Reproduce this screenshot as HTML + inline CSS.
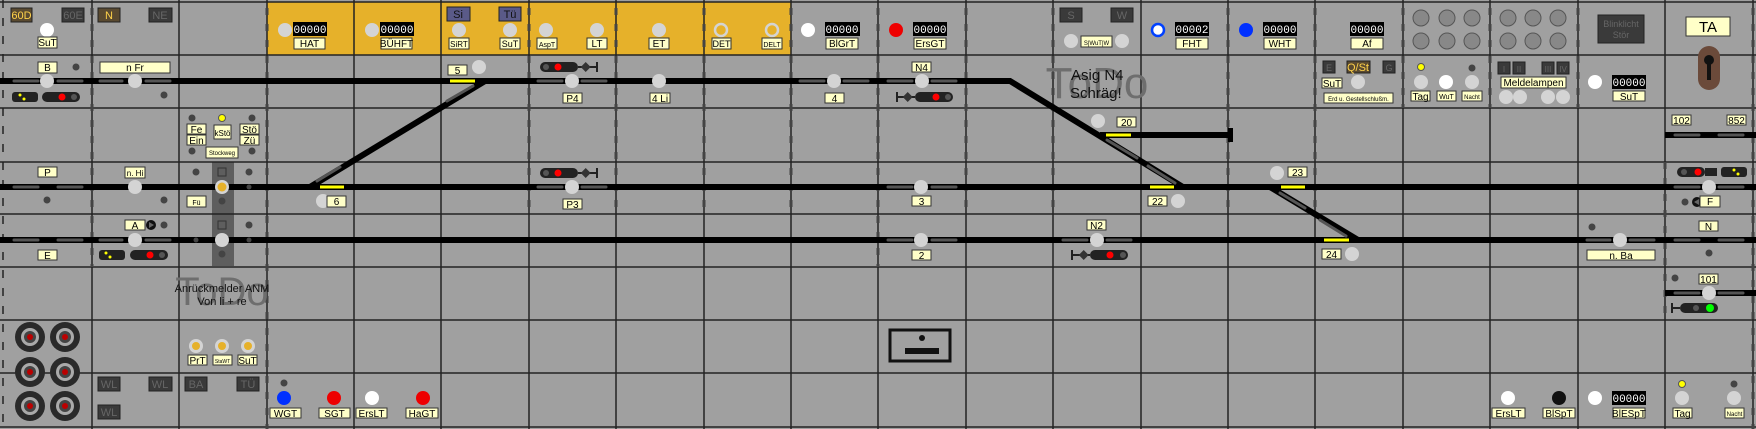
<!DOCTYPE html>
<html><head><meta charset="utf-8"><style>
html,body{margin:0;padding:0;background:#a0a0a0;}
svg{display:block;font-family:"Liberation Sans",sans-serif;}
.lb{fill:#ffffc8;stroke:#333;stroke-width:1;}
.lt{font-size:10px;fill:#000;text-anchor:middle;}
.cnt{fill:#000;}
.ct{font-size:11px;fill:#fff;text-anchor:middle;font-family:"Liberation Mono",monospace;}
.lc{fill:#d4d4d4;}
.dot{fill:#444;}
.db{fill:#3a3a3a;stroke:#222;}
.dbt{font-size:11px;fill:#666;text-anchor:middle;}
</style></head><body>
<svg width="1756" height="429" viewBox="0 0 1756 429" xmlns="http://www.w3.org/2000/svg">
<rect width="1756" height="429" fill="#a0a0a0"/>
<!-- gold panel -->
<rect x="267" y="2" width="524" height="53" fill="#e6b12a"/>
<!-- dark band -->
<rect x="212" y="162" width="22" height="104" fill="#5e5e5e"/>
<!-- rows -->
<g stroke="#222" stroke-width="1.5">
<line x1="0" y1="2" x2="1756" y2="2"/>
<line x1="0" y1="55" x2="1756" y2="55"/>
<line x1="0" y1="108" x2="1756" y2="108"/>
<line x1="0" y1="162" x2="1756" y2="162"/>
<line x1="0" y1="214" x2="1756" y2="214"/>
<line x1="0" y1="267" x2="1756" y2="267"/>
<line x1="0" y1="320" x2="1756" y2="320"/>
<line x1="0" y1="373" x2="1756" y2="373"/>
<line x1="0" y1="427" x2="1756" y2="427"/>
</g>
<!-- columns -->
<g stroke="#222" stroke-width="1.5">
<line x1="3" y1="0" x2="3" y2="429" stroke-dasharray="8 10"/>
<line x1="92" y1="0" x2="92" y2="429"/>
<line x1="179" y1="0" x2="179" y2="429"/>
<line x1="267" y1="0" x2="267" y2="429"/>
<line x1="354" y1="0" x2="354" y2="429"/>
<line x1="441" y1="0" x2="441" y2="429"/>
<line x1="529" y1="0" x2="529" y2="429"/>
<line x1="616" y1="0" x2="616" y2="429"/>
<line x1="704" y1="0" x2="704" y2="429"/>
<line x1="791" y1="0" x2="791" y2="429"/>
<line x1="878" y1="0" x2="878" y2="429"/>
<line x1="966" y1="0" x2="966" y2="429"/>
<line x1="1053" y1="0" x2="1053" y2="429"/>
<line x1="1141" y1="0" x2="1141" y2="429"/>
<line x1="1228" y1="0" x2="1228" y2="429"/>
<line x1="1315" y1="0" x2="1315" y2="429"/>
<line x1="1403" y1="0" x2="1403" y2="429"/>
<line x1="1490" y1="0" x2="1490" y2="429"/>
<line x1="1578" y1="0" x2="1578" y2="429"/>
<line x1="1665" y1="0" x2="1665" y2="429"/>
<line x1="1753" y1="0" x2="1753" y2="429"/>
</g>
<g stroke="#444" stroke-width="3" stroke-dasharray="7 9">
<line x1="92" y1="8" x2="92" y2="267"/><line x1="267" y1="8" x2="267" y2="429"/>
<line x1="616" y1="8" x2="616" y2="214"/><line x1="704" y1="8" x2="704" y2="214"/>
<line x1="791" y1="8" x2="791" y2="214"/><line x1="878" y1="8" x2="878" y2="267"/>
<line x1="1053" y1="8" x2="1053" y2="214"/><line x1="1228" y1="8" x2="1228" y2="214"/>
<line x1="1315" y1="8" x2="1315" y2="214"/><line x1="1403" y1="8" x2="1403" y2="108"/>
<line x1="1490" y1="8" x2="1490" y2="108"/><line x1="1578" y1="8" x2="1578" y2="108"/>
<line x1="1665" y1="162" x2="1665" y2="320"/><line x1="1753" y1="8" x2="1753" y2="429"/>
<line x1="529" y1="8" x2="529" y2="214"/><line x1="966" y1="8" x2="966" y2="214"/>
</g>

<!-- ToDo texts -->
<text x="1097" y="98" font-size="44" fill="#6e6e6e" text-anchor="middle">ToDo</text>
<text x="1071" y="80" font-size="15" fill="#111">Asig N4</text>
<text x="1070" y="98" font-size="15" fill="#111">Schräg!</text>
<text x="222" y="305" font-size="40" fill="#6e6e6e" text-anchor="middle">ToDo</text>
<text x="222" y="292" font-size="11" fill="#111" text-anchor="middle">Anrückmelder ANM</text>
<text x="222" y="305" font-size="11" fill="#111" text-anchor="middle">Von li + re</text>

<!-- Tracks -->
<g stroke="#000" stroke-width="6" fill="none">
<polyline points="0,81 1010,81 1183,187"/>
<line x1="0" y1="187" x2="1756" y2="187"/>
<line x1="0" y1="240" x2="1756" y2="240"/>
<line x1="310" y1="187" x2="485" y2="81"/>
<line x1="1100" y1="135" x2="1230" y2="135"/>
<line x1="1270" y1="187" x2="1358" y2="240"/>
<line x1="1665" y1="135" x2="1756" y2="135"/>
<line x1="1665" y1="293" x2="1756" y2="293"/>
</g>
<rect x="1228" y="128" width="5" height="14" fill="#000"/>
<!-- diagonal highlights -->
<g stroke="#555" stroke-width="3" stroke-linecap="round">
<line x1="317" y1="181" x2="340" y2="167"/>
<line x1="447" y1="101" x2="473" y2="86"/>
<line x1="1107" y1="140" x2="1137" y2="158"/>
<line x1="1148" y1="166" x2="1175" y2="183"/>
<line x1="1280" y1="193" x2="1305" y2="208"/>
<line x1="1320" y1="220" x2="1346" y2="236"/>
</g>
<!-- track dashes -->
<g stroke="#555" stroke-width="3" stroke-linecap="round">
<line x1="14" y1="81" x2="38" y2="81"/><line x1="58" y1="81" x2="82" y2="81"/>
<line x1="100" y1="81" x2="122" y2="81"/><line x1="146" y1="81" x2="170" y2="81"/>
<line x1="14" y1="187" x2="38" y2="187"/><line x1="58" y1="187" x2="82" y2="187"/>
<line x1="14" y1="240" x2="38" y2="240"/><line x1="58" y1="240" x2="82" y2="240"/>
<line x1="100" y1="240" x2="122" y2="240"/><line x1="146" y1="240" x2="170" y2="240"/>
<line x1="538" y1="81" x2="562" y2="81"/><line x1="582" y1="81" x2="606" y2="81"/>
<line x1="538" y1="187" x2="562" y2="187"/><line x1="582" y1="187" x2="606" y2="187"/>
<line x1="800" y1="81" x2="824" y2="81"/><line x1="844" y1="81" x2="868" y2="81"/>
<line x1="888" y1="81" x2="912" y2="81"/><line x1="932" y1="81" x2="956" y2="81"/>
<line x1="888" y1="187" x2="912" y2="187"/><line x1="932" y1="187" x2="956" y2="187"/>
<line x1="888" y1="240" x2="912" y2="240"/><line x1="932" y1="240" x2="956" y2="240"/>
<line x1="1063" y1="240" x2="1087" y2="240"/><line x1="1107" y1="240" x2="1131" y2="240"/>
<line x1="1587" y1="240" x2="1610" y2="240"/><line x1="1630" y1="240" x2="1654" y2="240"/>
<line x1="1675" y1="240" x2="1699" y2="240"/><line x1="1719" y1="240" x2="1743" y2="240"/>
<line x1="1675" y1="135" x2="1699" y2="135"/><line x1="1719" y1="135" x2="1743" y2="135"/>
<line x1="1675" y1="187" x2="1699" y2="187"/><line x1="1719" y1="187" x2="1743" y2="187"/>
<line x1="1675" y1="293" x2="1699" y2="293"/><line x1="1719" y1="293" x2="1743" y2="293"/>
</g>
<!-- yellow bars -->
<g stroke="#ffff00" stroke-width="3">
<line x1="450" y1="81" x2="475" y2="81"/>
<line x1="320" y1="187" x2="344" y2="187"/>
<line x1="1106" y1="135" x2="1131" y2="135"/>
<line x1="1150" y1="187" x2="1174" y2="187"/>
<line x1="1281" y1="187" x2="1305" y2="187"/>
<line x1="1324" y1="240" x2="1349" y2="240"/>
</g>

<!-- light circles (track) -->
<g class="lc">
<circle cx="47" cy="81" r="7"/><circle cx="135" cy="81" r="7"/><circle cx="135" cy="187" r="7"/><circle cx="135" cy="240" r="7"/>
<circle cx="222" cy="240" r="7"/><circle cx="479" cy="67" r="7"/><circle cx="572" cy="81" r="7"/><circle cx="659" cy="81" r="7"/>
<circle cx="834" cy="81" r="7"/><circle cx="922" cy="81" r="7"/><circle cx="323" cy="201" r="7"/><circle cx="572" cy="187" r="7"/>
<circle cx="921" cy="187" r="7"/><circle cx="921" cy="240" r="7"/><circle cx="1097" cy="240" r="7"/><circle cx="1098" cy="121" r="7"/>
<circle cx="1178" cy="201" r="7"/><circle cx="1277" cy="173" r="7"/><circle cx="1352" cy="254" r="7"/><circle cx="1620" cy="240" r="7"/>
<circle cx="1709" cy="187" r="7"/><circle cx="1709" cy="293" r="7"/>
<circle cx="285" cy="30" r="7"/><circle cx="372" cy="30" r="7"/><circle cx="459" cy="30" r="7"/><circle cx="510" cy="30" r="7"/>
<circle cx="546" cy="30" r="7"/><circle cx="597" cy="30" r="7"/><circle cx="659" cy="30" r="7"/>
<circle cx="1071" cy="41" r="7"/><circle cx="1122" cy="41" r="7"/>
<circle cx="1358" cy="82" r="7"/><circle cx="1421" cy="82" r="7"/><circle cx="1472" cy="82" r="7"/>
<circle cx="1506" cy="97" r="7"/><circle cx="1520" cy="97" r="7"/><circle cx="1548" cy="97" r="7"/><circle cx="1563" cy="97" r="7"/>
<circle cx="1682" cy="398" r="7"/><circle cx="1734" cy="398" r="7"/>
</g>
<circle cx="222" cy="187" r="7" fill="#d4d4d4"/><circle cx="222" cy="187" r="4.5" fill="#e6b12a"/>
<circle cx="721" cy="30" r="6" fill="none" stroke="#d4d4d4" stroke-width="2.5"/>
<circle cx="772" cy="30" r="6" fill="none" stroke="#d4d4d4" stroke-width="2.5"/>
<g fill="#d4d4d4"><circle cx="196" cy="346" r="7"/><circle cx="222" cy="346" r="7"/><circle cx="248" cy="346" r="7"/></g>
<g fill="#e6b12a"><circle cx="196" cy="346" r="4"/><circle cx="222" cy="346" r="4"/><circle cx="248" cy="346" r="4"/></g>
<!-- white/colored lamps -->
<g fill="#fff"><circle cx="47" cy="30" r="7"/><circle cx="808" cy="30" r="7"/><circle cx="1446" cy="82" r="7"/><circle cx="1595" cy="82" r="7"/>
<circle cx="372" cy="398" r="7"/><circle cx="1508" cy="398" r="7"/><circle cx="1595" cy="398" r="7"/><circle cx="1158" cy="30" r="5"/></g>
<circle cx="1158" cy="30" r="6" fill="none" stroke="#0040ff" stroke-width="2.5"/>
<circle cx="1246" cy="30" r="7" fill="#0030ff"/><circle cx="284" cy="398" r="7" fill="#0030ff"/>
<g fill="#ee0000"><circle cx="896" cy="30" r="7"/><circle cx="334" cy="398" r="7"/><circle cx="423" cy="398" r="7"/></g>
<circle cx="1559" cy="398" r="7" fill="#111"/>
<g fill="#ffff00" stroke="#555"><circle cx="222" cy="118" r="3.5"/><circle cx="1421" cy="67" r="3.5"/><circle cx="1682" cy="384" r="3.5"/></g>
<!-- dark dots -->
<g class="dot">
<circle cx="76" cy="67" r="3.5"/><circle cx="164" cy="95" r="3.5"/><circle cx="47" cy="200" r="3.5"/><circle cx="164" cy="200" r="3.5"/>
<circle cx="164" cy="225" r="3.5"/><circle cx="192" cy="118" r="3.5"/><circle cx="252" cy="118" r="3.5"/><circle cx="192" cy="151" r="3.5"/><circle cx="252" cy="151" r="3.5"/>
<circle cx="196" cy="172" r="3.5"/><circle cx="249" cy="172" r="3.5"/><circle cx="249" cy="187" r="2.5"/><circle cx="222" cy="201" r="3.5"/>
<circle cx="249" cy="225" r="3.5"/><circle cx="196" cy="240" r="2.5"/><circle cx="249" cy="240" r="2.5"/><circle cx="222" cy="254" r="3.5"/>
<circle cx="1472" cy="68" r="3.5"/><circle cx="1592" cy="227" r="3.5"/><circle cx="1709" cy="253" r="3.5"/><circle cx="1675" cy="278" r="3.5"/>
<circle cx="1685" cy="202" r="3.5"/><circle cx="284" cy="383" r="3.5"/><circle cx="1734" cy="384" r="3.5"/>
</g>
<g fill="none" stroke="#333"><rect x="218" y="168" width="8" height="8"/><rect x="218" y="221" width="8" height="8"/></g>
<circle cx="151" cy="225" r="5" fill="#111"/><polygon points="149,222 154,225 149,228" fill="#666"/>
<circle cx="1697" cy="202" r="5" fill="#111"/><polygon points="1699,199 1694,202 1699,205" fill="#666"/>

<!-- signals -->
<g>
<rect x="42" y="92" width="38" height="10" rx="5" fill="#222"/><circle cx="62" cy="97" r="3.5" fill="#f00"/><circle cx="74" cy="97" r="3" fill="#555"/>
<rect x="12" y="92" width="26" height="10" rx="3" fill="#222"/><circle cx="20" cy="95" r="1.5" fill="#ff0"/><circle cx="24" cy="99" r="1.5" fill="#ff0"/>
<rect x="540" y="62" width="38" height="10" rx="5" fill="#222"/><circle cx="558" cy="67" r="3.5" fill="#f00"/><circle cx="546" cy="67" r="3" fill="#555"/><line x1="578" y1="67" x2="597" y2="67" stroke="#222" stroke-width="2"/><rect x="582" y="63" width="7" height="7" fill="#333" transform="rotate(45 585 67)"/><line x1="597" y1="62" x2="597" y2="72" stroke="#222" stroke-width="2"/>
<rect x="540" y="168" width="38" height="10" rx="5" fill="#222"/><circle cx="558" cy="173" r="3.5" fill="#f00"/><circle cx="546" cy="173" r="3" fill="#555"/><line x1="578" y1="173" x2="597" y2="173" stroke="#222" stroke-width="2"/><rect x="582" y="169" width="7" height="7" fill="#333" transform="rotate(45 585 173)"/><line x1="597" y1="168" x2="597" y2="178" stroke="#222" stroke-width="2"/>
<rect x="915" y="92" width="38" height="10" rx="5" fill="#222"/><circle cx="936" cy="97" r="3.5" fill="#f00"/><circle cx="948" cy="97" r="3" fill="#555"/><line x1="897" y1="97" x2="915" y2="97" stroke="#222" stroke-width="2"/><rect x="904" y="93" width="7" height="7" fill="#333" transform="rotate(45 907 97)"/><line x1="897" y1="92" x2="897" y2="102" stroke="#222" stroke-width="2"/>
<rect x="1090" y="250" width="38" height="10" rx="5" fill="#222"/><circle cx="1110" cy="255" r="3.5" fill="#f00"/><circle cx="1123" cy="255" r="3" fill="#555"/><line x1="1072" y1="255" x2="1090" y2="255" stroke="#222" stroke-width="2"/><rect x="1080" y="251" width="7" height="7" fill="#333" transform="rotate(45 1083 255)"/><line x1="1072" y1="250" x2="1072" y2="260" stroke="#222" stroke-width="2"/>
<rect x="130" y="250" width="38" height="10" rx="5" fill="#222"/><circle cx="150" cy="255" r="3.5" fill="#f00"/><circle cx="162" cy="255" r="3" fill="#555"/>
<rect x="99" y="250" width="26" height="10" rx="3" fill="#222"/><circle cx="106" cy="253" r="1.5" fill="#ff0"/><circle cx="110" cy="257" r="1.5" fill="#ff0"/>
<rect x="1677" y="167" width="28" height="10" rx="5" fill="#222"/><circle cx="1698" cy="172" r="3.5" fill="#f00"/><circle cx="1684" cy="172" r="3" fill="#555"/><rect x="1705" y="168" width="12" height="8" fill="#222"/>
<rect x="1721" y="167" width="26" height="10" rx="3" fill="#222"/><circle cx="1734" cy="170" r="1.5" fill="#ff0"/><circle cx="1738" cy="174" r="1.5" fill="#ff0"/>
<rect x="1680" y="303" width="38" height="10" rx="5" fill="#222"/><circle cx="1696" cy="308" r="3" fill="#555"/><circle cx="1710" cy="308" r="4" fill="#0f0"/><line x1="1672" y1="303" x2="1672" y2="313" stroke="#222" stroke-width="2"/><line x1="1672" y1="308" x2="1680" y2="308" stroke="#222" stroke-width="2"/>
</g>

<!-- dark small boxes -->
<g class="db">
<rect x="62" y="8" width="22" height="14"/><rect x="149" y="8" width="23" height="14"/>
<rect x="1060" y="8" width="22" height="14"/><rect x="1111" y="8" width="22" height="14"/>
<rect x="1323" y="61" width="12" height="12"/><rect x="1383" y="61" width="12" height="12"/>
<rect x="1498" y="62" width="12" height="12"/><rect x="1513" y="62" width="12" height="12"/><rect x="1542" y="62" width="12" height="12"/><rect x="1557" y="62" width="12" height="12"/>
<rect x="1598" y="15" width="46" height="28"/>
<rect x="98" y="377" width="22" height="14"/><rect x="149" y="377" width="23" height="14"/><rect x="98" y="405" width="22" height="14"/>
<rect x="185" y="377" width="22" height="14"/><rect x="237" y="377" width="22" height="14"/>
</g>
<rect x="11" y="8" width="21" height="14" fill="#5a4a30" stroke="#222"/>
<rect x="98" y="8" width="22" height="14" fill="#5a4a30" stroke="#222"/>
<rect x="1347" y="61" width="23" height="12" fill="#5a4a30" stroke="#222"/>
<rect x="447" y="7" width="23" height="14" fill="#5a5a88" stroke="#222"/><rect x="499" y="7" width="22" height="14" fill="#5a5a88" stroke="#222"/>
<g font-size="11" text-anchor="middle">
<text x="21.5" y="19" fill="#ffd24a">60D</text><text x="73" y="19" fill="#666">60E</text>
<text x="109" y="19" fill="#ffd24a">N</text><text x="160" y="19" fill="#666">NE</text>
<text x="458" y="18" fill="#111">Si</text><text x="510" y="18" fill="#111">Tü</text>
<text x="1071" y="19" fill="#666">S</text><text x="1122" y="19" fill="#666">W</text>
<text x="1358" y="71" fill="#ffd24a">Q/St</text><text x="1329" y="71" fill="#666" font-size="9">E</text><text x="1389" y="71" fill="#666" font-size="9">G</text>
<text x="109" y="388" fill="#666">WL</text><text x="160" y="388" fill="#666">WL</text><text x="109" y="416" fill="#666">WL</text>
<text x="196" y="388" fill="#666">BA</text><text x="248" y="388" fill="#666">TÜ</text>
<text x="1621" y="27" fill="#666" font-size="9">Blinklicht</text><text x="1621" y="38" fill="#666" font-size="9">Stör</text>
<text x="1504" y="72" fill="#666" font-size="8">I</text><text x="1519" y="72" fill="#666" font-size="8">II</text><text x="1548" y="72" fill="#666" font-size="8">III</text><text x="1563" y="72" fill="#666" font-size="8">IV</text>
</g>

<!-- grey circles top right -->
<g fill="#888" stroke="#555">
<circle cx="1421" cy="18" r="8"/><circle cx="1447" cy="18" r="8"/><circle cx="1472" cy="18" r="8"/>
<circle cx="1421" cy="41" r="8"/><circle cx="1447" cy="41" r="8"/><circle cx="1472" cy="41" r="8"/>
<circle cx="1508" cy="18" r="8"/><circle cx="1533" cy="18" r="8"/><circle cx="1558" cy="18" r="8"/>
<circle cx="1508" cy="41" r="8"/><circle cx="1533" cy="41" r="8"/><circle cx="1558" cy="41" r="8"/>
</g>

<!-- counters -->
<g class="cnt">
<rect x="293" y="22" width="34" height="14"/><rect x="380" y="22" width="34" height="14"/><rect x="825" y="22" width="35" height="14"/>
<rect x="913" y="22" width="34" height="14"/><rect x="1175" y="22" width="34" height="14"/><rect x="1263" y="22" width="34" height="14"/>
<rect x="1350" y="22" width="34" height="14"/><rect x="1612" y="75" width="34" height="14"/><rect x="1612" y="391" width="34" height="14"/>
</g>
<g class="ct">
<text x="310" y="33">00000</text><text x="397" y="33">00000</text><text x="842" y="33">00000</text><text x="930" y="33">00000</text>
<text x="1192" y="33">00002</text><text x="1280" y="33">00000</text><text x="1367" y="33">00000</text><text x="1629" y="86">00000</text><text x="1629" y="402">00000</text>
</g>

<!-- labels -->
<g class="lb">
<rect x="38" y="37" width="19" height="11"/><rect x="294" y="38" width="31" height="11"/><rect x="381" y="38" width="31" height="11"/>
<rect x="449" y="38" width="20" height="11"/><rect x="500" y="38" width="20" height="11"/><rect x="537" y="38" width="20" height="11"/><rect x="587" y="38" width="20" height="11"/>
<rect x="649" y="38" width="20" height="11"/><rect x="712" y="38" width="19" height="11"/><rect x="762" y="38" width="20" height="11"/>
<rect x="826" y="38" width="32" height="11"/><rect x="914" y="38" width="32" height="11"/><rect x="1081" y="36" width="31" height="11"/>
<rect x="1176" y="38" width="32" height="11"/><rect x="1264" y="38" width="32" height="11"/><rect x="1351" y="38" width="32" height="11"/>
<rect x="38" y="62" width="19" height="11"/><rect x="100" y="62" width="70" height="11"/><rect x="448" y="65" width="19" height="10"/>
<rect x="563" y="93" width="19" height="10"/><rect x="650" y="93" width="20" height="10"/><rect x="825" y="93" width="19" height="10"/><rect x="912" y="62" width="19" height="10"/>
<rect x="1322" y="78" width="20" height="10"/><rect x="1324" y="93" width="69" height="10"/><rect x="1411" y="91" width="19" height="10"/><rect x="1437" y="91" width="19" height="10"/><rect x="1462" y="91" width="20" height="10"/>
<rect x="1501" y="77" width="65" height="11"/><rect x="1613" y="91" width="32" height="10"/><rect x="1686" y="17" width="44" height="19"/>
<rect x="187" y="124" width="19" height="10"/><rect x="187" y="135" width="19" height="10"/><rect x="214" y="125" width="17" height="14"/><rect x="240" y="124" width="19" height="10"/><rect x="240" y="135" width="19" height="10"/><rect x="206" y="147" width="32" height="11"/>
<rect x="1117" y="117" width="19" height="10"/><rect x="1672" y="115" width="19" height="10"/><rect x="1727" y="115" width="19" height="10"/>
<rect x="38" y="167" width="19" height="10"/><rect x="125" y="167" width="20" height="11"/><rect x="187" y="196" width="19" height="11"/><rect x="327" y="196" width="19" height="11"/>
<rect x="563" y="199" width="19" height="10"/><rect x="912" y="196" width="19" height="10"/><rect x="1148" y="196" width="19" height="10"/><rect x="1288" y="167" width="19" height="10"/><rect x="1700" y="196" width="20" height="11"/>
<rect x="125" y="220" width="20" height="10"/><rect x="38" y="250" width="19" height="10"/><rect x="912" y="250" width="19" height="10"/><rect x="1087" y="220" width="19" height="10"/>
<rect x="1322" y="249" width="19" height="10"/><rect x="1587" y="250" width="68" height="10"/><rect x="1699" y="221" width="19" height="10"/><rect x="1699" y="274" width="19" height="10"/>
<rect x="188" y="355" width="19" height="10"/><rect x="213" y="355" width="19" height="10"/><rect x="238" y="355" width="19" height="10"/>
<rect x="270" y="408" width="31" height="10"/><rect x="319" y="408" width="31" height="10"/><rect x="356" y="408" width="31" height="10"/><rect x="406" y="408" width="32" height="10"/>
<rect x="1492" y="408" width="33" height="10"/><rect x="1543" y="408" width="32" height="10"/><rect x="1613" y="408" width="32" height="10"/><rect x="1673" y="408" width="19" height="10"/><rect x="1725" y="408" width="19" height="10"/>
</g>
<g class="lt">
<text x="47.5" y="46">SuT</text><text x="309.5" y="47">HAT</text><text x="396.5" y="47">BÜHFT</text>
<text x="459" y="47" font-size="8">SiRT</text><text x="510" y="47" font-size="9">SuT</text><text x="547" y="47" font-size="7">AspT</text><text x="597" y="47">LT</text>
<text x="659" y="47">ET</text><text x="721.5" y="47" font-size="9">DET</text><text x="772" y="47" font-size="7">DELT</text>
<text x="842" y="47">BlGrT</text><text x="930" y="47">ErsGT</text><text x="1096.5" y="45" font-size="6">S|WuT|W</text>
<text x="1192" y="47">FHT</text><text x="1280" y="47">WHT</text><text x="1367" y="47">Af</text>
<text x="47.5" y="71">B</text><text x="135" y="71">n Fr</text><text x="457.5" y="74">5</text>
<text x="572.5" y="102">P4</text><text x="660" y="102">4 Li</text><text x="834.5" y="102">4</text><text x="921.5" y="71">N4</text>
<text x="1332" y="87">SuT</text><text x="1358.5" y="101" font-size="6">Erd u. Gestellschlußm.</text>
<text x="1420.5" y="100">Tag</text><text x="1446.5" y="99" font-size="7">WuT</text><text x="1472" y="99" font-size="6">Nacht</text>
<text x="1533.5" y="86">Meldelampen</text><text x="1629" y="100">SuT</text><text x="1708" y="32" font-size="15">TA</text>
<text x="196.5" y="133">Fe</text><text x="196.5" y="144">Ein</text><text x="222.5" y="136" font-size="8">kStö</text><text x="249.5" y="133">Stö</text><text x="249.5" y="144">Zü</text><text x="222" y="155" font-size="6">Stockweg</text>
<text x="1126.5" y="126">20</text><text x="1681.5" y="124">102</text><text x="1736.5" y="124">852</text>
<text x="47.5" y="176">P</text><text x="135" y="176" font-size="8">n. Hi</text><text x="196.5" y="205" font-size="7">Fü</text><text x="336.5" y="205">6</text>
<text x="572.5" y="208">P3</text><text x="921.5" y="205">3</text><text x="1157.5" y="205">22</text><text x="1297.5" y="176">23</text><text x="1710" y="205">F</text>
<text x="135" y="229">A</text><text x="47.5" y="259">E</text><text x="921.5" y="259">2</text><text x="1096.5" y="229">N2</text>
<text x="1331.5" y="258">24</text><text x="1621" y="259">n. Ba</text><text x="1708.5" y="230">N</text><text x="1708.5" y="283">101</text>
<text x="197.5" y="364">PrT</text><text x="222.5" y="363" font-size="5">StaWT</text><text x="247.5" y="364">SuT</text>
<text x="285.5" y="417">WGT</text><text x="334.5" y="417">SGT</text><text x="371.5" y="417">ErsLT</text><text x="422" y="417">HaGT</text>
<text x="1508.5" y="417">ErsLT</text><text x="1559" y="417">BlSpT</text><text x="1629" y="417">BlESpT</text><text x="1682.5" y="417">Tag</text><text x="1734.5" y="416" font-size="6">Nacht</text>
</g>

<!-- keyhole -->
<rect x="1698" y="46" width="22" height="44" rx="11" fill="#6b4a3a"/>
<circle cx="1709" cy="60" r="5" fill="#111"/><rect x="1707" y="60" width="4" height="20" fill="#111"/>

<!-- symbol box -->
<rect x="890" y="330" width="60" height="31" fill="none" stroke="#111" stroke-width="3"/>
<circle cx="922" cy="338" r="3" fill="#111"/><rect x="905" y="348" width="34" height="6" fill="#111"/>

<!-- jacks -->
<g>
<g transform="translate(30,337)"><circle r="15" fill="#2a2a2a"/><circle r="9" fill="#aaa"/><circle r="6" fill="#444"/><circle r="3" fill="#b00"/></g>
<g transform="translate(65,337)"><circle r="15" fill="#2a2a2a"/><circle r="9" fill="#aaa"/><circle r="6" fill="#444"/><circle r="3" fill="#b00"/></g>
<g transform="translate(30,372)"><circle r="15" fill="#2a2a2a"/><circle r="9" fill="#aaa"/><circle r="6" fill="#444"/><circle r="3" fill="#b00"/></g>
<g transform="translate(65,372)"><circle r="15" fill="#2a2a2a"/><circle r="9" fill="#aaa"/><circle r="6" fill="#444"/><circle r="3" fill="#b00"/></g>
<g transform="translate(30,406)"><circle r="15" fill="#2a2a2a"/><circle r="9" fill="#aaa"/><circle r="6" fill="#444"/><circle r="3" fill="#b00"/></g>
<g transform="translate(65,406)"><circle r="15" fill="#2a2a2a"/><circle r="9" fill="#aaa"/><circle r="6" fill="#444"/><circle r="3" fill="#b00"/></g>
</g>
</svg>
</body></html>
